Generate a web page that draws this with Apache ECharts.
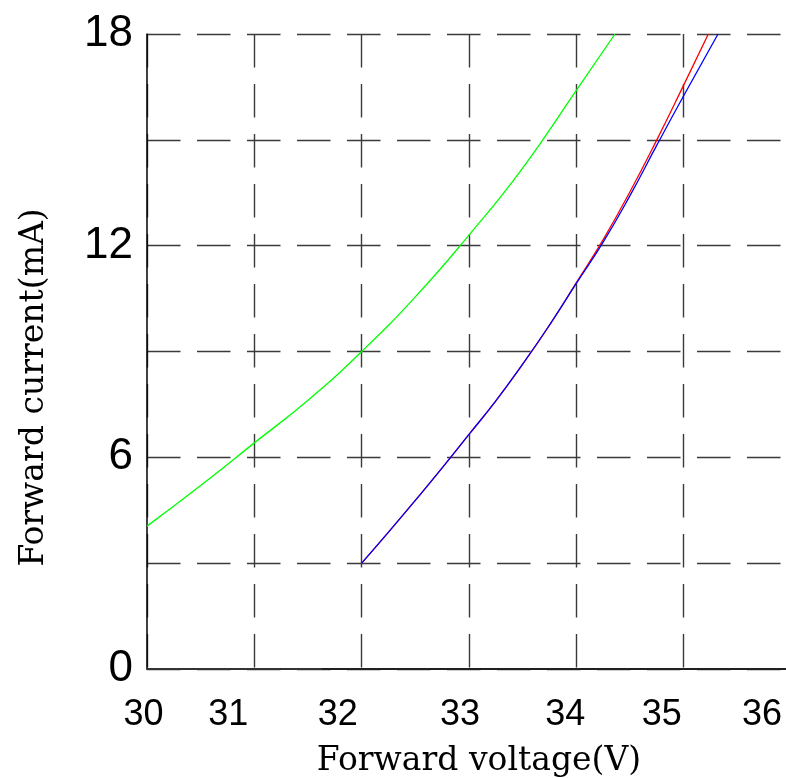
<!DOCTYPE html>
<html>
<head>
<meta charset="utf-8">
<script src="https://cdn.jsdelivr.net/npm/echarts@6/dist/echarts.min.js"></script>
<style>html,body{margin:0;padding:0;background:#fff;overflow:hidden}#c{width:800px;height:778px}</style>
</head>
<body>
<div id="c"></div>
<script>
// ---- data ----
var xTicks = [30, 31, 32, 33, 34, 35, 36];
var yTicks = [0, 6, 12, 18];
var greenV = [30, 30.5, 31, 31.5, 32, 32.5, 33, 33.5, 34, 34.36];
var greenI = [4.05, 5.2, 6.41, 7.62, 9.0, 10.55, 12.3, 14.2, 16.4, 18.0];
var redV = [32, 32.25, 32.5, 32.75, 33, 33.25, 33.5, 33.75, 34, 34.25, 34.5, 34.75, 35, 35.23];
var redI = [3.0, 3.88, 4.78, 5.7, 6.65, 7.6, 8.64, 9.75, 10.95, 12.17, 13.53, 15.0, 16.55, 18.0];
var blueV = [32, 32.25, 32.5, 32.75, 33, 33.25, 33.5, 33.75, 34, 34.25, 34.5, 34.75, 35, 35.32];
var blueI = [3.0, 3.88, 4.78, 5.7, 6.65, 7.6, 8.64, 9.75, 10.93, 12.1, 13.42, 14.85, 16.25, 18.0];
var blackV = [30, 31.63];
var blackI = [0, 0];

// label horizontal offsets (px) of x tick labels, as drawn in the reference
var xLabelShift = [-3.5, -26, -24, -9, -11, -22, -29];

function pairs(xs, ys) { return xs.map(function (x, i) { return [x, ys[i]]; }); }

var rich = {};
xLabelShift.forEach(function (s, i) {
  rich['l' + i] = { fontFamily: 'Liberation Sans', fontSize: 36, color: '#000', padding: [0, Math.abs(s) * 2, 0, 0] };
});

var titleFont = 'DejaVu Serif';
var chart = echarts.init(document.getElementById('c'));
chart.setOption({
  animation: false,
  grid: { left: 147, top: 34, width: 644, height: 635, containLabel: false, outerBoundsMode: 'none' },
  xAxis: [{
    type: 'value', min: 30, max: 36, interval: 1,
    axisLine: { show: true, onZero: false, lineStyle: { color: '#808080', width: 2 } },
    axisTick: { show: false },
    axisLabel: {
      margin: 28, showMaxLabel: true, showMinLabel: true,
      formatter: function (v) { var i = xTicks.indexOf(v); return i < 0 ? '' : '{l' + i + '|' + v + '}'; },
      rich: rich
    },
    splitLine: { show: true, lineStyle: { color: '#3a3a3a', width: 1.4, type: [33.5, 16.5] } },
    name: 'Forward voltage(V)', nameLocation: 'middle', nameGap: 76,
    nameTextStyle: { fontFamily: titleFont, fontSize: 33, color: '#000', padding: [0, 0, 0, 20] }
  }, {
    type: 'value', min: 30, max: 36, position: 'top', z: 1,
    axisLine: { show: true, lineStyle: { color: '#000', width: 1.5 } },
    axisTick: { show: false }, axisLabel: { show: false }, splitLine: { show: false }
  }],
  yAxis: {
    type: 'value', min: 0, max: 18, interval: 3,
    axisLine: { show: true, lineStyle: { color: '#000', width: 1.5 } },
    axisTick: { show: false },
    axisLabel: {
      margin: 14, fontFamily: 'Liberation Sans', fontSize: 44, color: '#000', padding: [0, 0, 14, 0],
      formatter: function (v) { return yTicks.indexOf(v) < 0 ? '' : String(v); }
    },
    splitLine: { show: true, lineStyle: { color: '#3a3a3a', width: 1.4, type: [33.5, 16.5] } },
    name: 'Forward current(mA)', nameLocation: 'middle', nameGap: 96,
    nameTextStyle: { fontFamily: titleFont, fontSize: 33, color: '#000', padding: [0, 72, 0, 0] }
  },
  series: [
    { type: 'line', data: pairs(blackV, blackI), symbol: 'none', lineStyle: { color: '#333', width: 2 } },
    { type: 'line', data: pairs(greenV, greenI), symbol: 'none', smooth: true, lineStyle: { color: '#00ff00', width: 1.3 } },
    { type: 'line', data: pairs(redV, redI), symbol: 'none', smooth: true, lineStyle: { color: '#ff0000', width: 1.3 } },
    { type: 'line', data: pairs(blueV, blueI), symbol: 'none', smooth: true, lineStyle: { color: '#0000ff', width: 1.3 } }
  ]
});
</script>
</body>
</html>
